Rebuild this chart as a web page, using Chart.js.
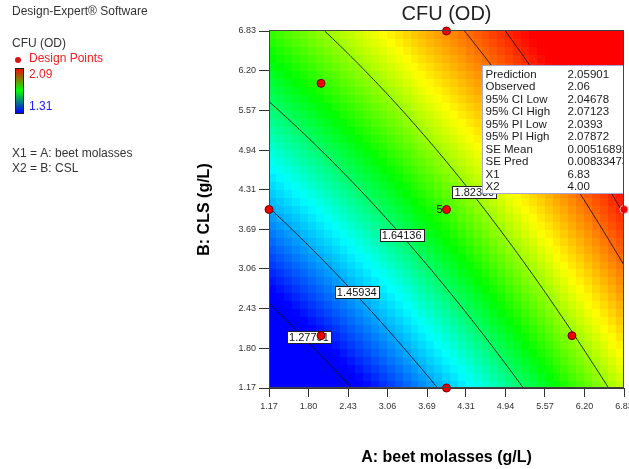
<!DOCTYPE html>
<html>
<head>
<meta charset="utf-8">
<title>CFU (OD) contour</title>
<script src="https://cdn.jsdelivr.net/npm/chart.js@4.4.1/dist/chart.umd.min.js"></script>
<style>
  html, body { margin: 0; padding: 0; background: #fff; }
  #wrap { width: 629px; height: 469px; }
</style>
</head>
<body>
<div id="wrap"><canvas id="chart" width="629" height="469"></canvas></div>
<script>
// Tick labels as printed on both axes (g/L)
const aTicks = [1.17, 1.80, 2.43, 3.06, 3.69, 4.31, 4.94, 5.57, 6.20, 6.83];
const bTicks = [1.17, 1.80, 2.43, 3.06, 3.69, 4.31, 4.94, 5.57, 6.20, 6.83];

// Design points (central composite, alpha = 1.414)
const designA = [1.17, 2.00, 4.00, 4.00, 6.83, 6.00, 2.00, 4.00];
const designB = [4.00, 6.00, 6.83, 4.00, 4.00, 2.00, 2.00, 1.17];
const centerReps = 5;
const flaggedPoint = 4; // index of the point the flag box belongs to

// Fitted quadratic, coded units x = (g/L - 4) / 2
// terms: [intercept, A, B, AB, A^2, B^2]
const modelCoef = [1.758, 0.215, 0.178, -0.036, 0.001, -0.014];

// Contour levels (last one goes through the flagged point)
const contourLevels = [1.27791, 1.45934, 1.64136, 1.82339, 2.00542, 2.05901];
const contourLabels = ['1.27791', '1.45934', '1.64136', '1.82339'];
const colorRange = [1.31, 2.09];

// Flag box at A = 6.83, B = 4.00
const flagNames = ['Prediction', 'Observed', '95% CI Low', '95% CI High', '95% PI Low', '95% PI High', 'SE Mean', 'SE Pred', 'X1', 'X2'];
const flagValues = ['2.05901', '2.06', '2.04678', '2.07123', '2.0393', '2.07872', '0.00516892', '0.00833473', '6.83', '4.00'];

const FONT = '"Liberation Sans", Arial, sans-serif';

function predict(a, b) {
  const x1 = (a - 4) / 2;
  const x2 = (b - 4) / 2;
  const c = modelCoef;
  return c[0] + c[1] * x1 + c[2] * x2 + c[3] * x1 * x2 + c[4] * x1 * x1 + c[5] * x2 * x2;
}

// blue -> cyan -> green -> yellow -> red
const colorStops = [[0, 0, 255], [0, 255, 255], [0, 255, 0], [255, 255, 0], [255, 0, 0]];
const stopPos = [0, 0.29, 0.52, 0.75, 1];
function colorFor(v) {
  let t = (v - colorRange[0]) / (colorRange[1] - colorRange[0]);
  t = Math.max(0, Math.min(1, t));
  let k = 0;
  while (k < stopPos.length - 2 && t > stopPos[k + 1]) k++;
  const f = (t - stopPos[k]) / (stopPos[k + 1] - stopPos[k]);
  const c0 = colorStops[k], c1 = colorStops[k + 1];
  const r = Math.round(c0[0] + (c1[0] - c0[0]) * f);
  const g = Math.round(c0[1] + (c1[1] - c0[1]) * f);
  const bl = Math.round(c0[2] + (c1[2] - c0[2]) * f);
  return `rgb(${r},${g},${bl})`;
}

// marching squares on the fitted surface
function contourSegments(level, xs, ys, n) {
  const segs = [];
  const dA = (xs.max - xs.min) / n;
  const dB = (ys.max - ys.min) / n;
  const grid = [];
  for (let j = 0; j <= n; j++) {
    grid[j] = [];
    for (let i = 0; i <= n; i++) grid[j][i] = predict(xs.min + i * dA, ys.min + j * dB);
  }
  for (let j = 0; j < n; j++) {
    for (let i = 0; i < n; i++) {
      const corners = [
        [xs.min + i * dA, ys.min + j * dB, grid[j][i]],
        [xs.min + (i + 1) * dA, ys.min + j * dB, grid[j][i + 1]],
        [xs.min + (i + 1) * dA, ys.min + (j + 1) * dB, grid[j + 1][i + 1]],
        [xs.min + i * dA, ys.min + (j + 1) * dB, grid[j + 1][i]],
      ];
      const pts = [];
      for (let e = 0; e < 4; e++) {
        const p = corners[e], q = corners[(e + 1) % 4];
        if ((p[2] < level) !== (q[2] < level)) {
          const t = (level - p[2]) / (q[2] - p[2]);
          pts.push([p[0] + t * (q[0] - p[0]), p[1] + t * (q[1] - p[1])]);
        }
      }
      if (pts.length >= 2) segs.push([pts[0], pts[1]]);
      if (pts.length === 4) segs.push([pts[2], pts[3]]);
    }
  }
  return segs;
}

const surfacePlugin = {
  id: 'surface',
  beforeDatasetsDraw(chart, args, opts) {
    const { ctx, chartArea: ca, scales: { x, y } } = chart;
    ctx.save();
    ctx.beginPath();
    ctx.rect(ca.left, ca.top, ca.right - ca.left, ca.bottom - ca.top);
    ctx.clip();

    // coloured cells
    const n = opts.cells;
    const dA = (x.max - x.min) / n;
    const dB = (y.max - y.min) / n;
    for (let i = 0; i < n; i++) {
      for (let j = 0; j < n; j++) {
        const a0 = x.min + i * dA, b0 = y.min + j * dB;
        const px0 = Math.floor(x.getPixelForValue(a0));
        const px1 = Math.ceil(x.getPixelForValue(a0 + dA));
        const py0 = Math.floor(y.getPixelForValue(b0 + dB));
        const py1 = Math.ceil(y.getPixelForValue(b0));
        ctx.fillStyle = colorFor(predict(a0 + dA / 2, b0 + dB / 2));
        ctx.fillRect(px0, py0, px1 - px0, py1 - py0);
      }
    }

    // contour lines
    ctx.strokeStyle = '#111';
    ctx.lineWidth = 0.9;
    contourLevels.forEach((lv) => {
      ctx.beginPath();
      contourSegments(lv, x, y, 140).forEach(([p, q]) => {
        ctx.moveTo(x.getPixelForValue(p[0]), y.getPixelForValue(p[1]));
        ctx.lineTo(x.getPixelForValue(q[0]), y.getPixelForValue(q[1]));
      });
      ctx.stroke();
    });

    // contour labels
    ctx.font = `11px ${FONT}`;
    ctx.textAlign = 'center';
    ctx.textBaseline = 'middle';
    contourLabels.forEach((txt, k) => {
      const [la, lb] = opts.labelAt[k];
      const cx = x.getPixelForValue(la), cy = y.getPixelForValue(lb);
      const w = Math.ceil(ctx.measureText(txt).width) + 4;
      ctx.fillStyle = '#fff';
      ctx.fillRect(Math.round(cx - w / 2) + 0.5, Math.round(cy - 6) + 0.5, w, 12);
      ctx.strokeStyle = '#222';
      ctx.lineWidth = 1;
      ctx.strokeRect(Math.round(cx - w / 2) + 0.5, Math.round(cy - 6) + 0.5, w, 12);
      ctx.fillStyle = '#111';
      ctx.fillText(txt, cx, cy + 1);
    });
    ctx.restore();
  },
  afterDatasetsDraw(chart) {
    const { ctx, chartArea: ca, scales: { x, y } } = chart;
    ctx.save();
    // replicate count at the centre point
    ctx.font = `11px ${FONT}`;
    ctx.fillStyle = '#111';
    ctx.textAlign = 'right';
    ctx.textBaseline = 'middle';
    ctx.fillText(String(centerReps), x.getPixelForValue(4) - 4, y.getPixelForValue(4));

    // flag box, clipped to the plot
    ctx.save();
    ctx.beginPath();
    ctx.rect(ca.left, ca.top, ca.right - ca.left, ca.bottom - ca.top);
    ctx.clip();
    const bx = ca.left + 213.5, by = ca.top + 34.5;
    ctx.fillStyle = '#fff';
    ctx.fillRect(bx, by, 200, 128);
    ctx.strokeStyle = '#a8a8d8';
    ctx.lineWidth = 1;
    ctx.strokeRect(bx, by, 200, 128);
    ctx.font = `11.5px ${FONT}`;
    ctx.fillStyle = '#1a1a1a';
    ctx.textAlign = 'left';
    flagNames.forEach((nm, k) => {
      const ty = by + 9 + k * 12.5;
      ctx.fillText(nm, bx + 3, ty);
      ctx.fillText(flagValues[k], bx + 85, ty);
    });
    ctx.restore();

    // plot frame
    ctx.strokeStyle = '#444';
    ctx.lineWidth = 1;
    ctx.strokeRect(Math.round(ca.left) + 0.5, Math.round(ca.top) - 0.5, Math.round(ca.right - ca.left) - 1, Math.round(ca.bottom - ca.top));
    ctx.restore();
  },
  afterDraw(chart) {
    const { ctx } = chart;
    ctx.save();
    ctx.textAlign = 'left';
    ctx.textBaseline = 'middle';
    ctx.font = `12px ${FONT}`;
    ctx.fillStyle = '#333';
    ctx.fillText('Design-Expert\u00ae Software', 12, 12);
    ctx.fillText('CFU (OD)', 12, 44);
    ctx.fillText('X1 = A: beet molasses', 12, 154);
    ctx.fillText('X2 = B: CSL', 12, 169);

    ctx.fillStyle = '#e01010';
    ctx.beginPath();
    ctx.arc(18, 60, 3, 0, Math.PI * 2);
    ctx.fill();
    ctx.fillStyle = '#f02020';
    ctx.fillText('Design Points', 29, 59);
    ctx.fillText(colorRange[1].toFixed(2), 29, 75);
    ctx.fillStyle = '#2020ff';
    ctx.fillText(colorRange[0].toFixed(2), 29, 107);

    const grad = ctx.createLinearGradient(0, 68, 0, 113);
    grad.addColorStop(0, '#ff0000');
    grad.addColorStop(0.5, '#00ff00');
    grad.addColorStop(1, '#0000ff');
    ctx.fillStyle = grad;
    ctx.fillRect(15, 68, 8, 45);
    ctx.strokeStyle = '#222';
    ctx.strokeRect(15.5, 68.5, 8, 45);
    ctx.restore();
  },
};

function fixedTicks(list) {
  return (scale) => { scale.ticks = list.map((v) => ({ value: v })); };
}

new Chart(document.getElementById('chart'), {
  type: 'scatter',
  data: {
    datasets: [{
      data: designA.map((a, i) => ({ x: a, y: designB[i] })),
      pointRadius: 4,
      pointHoverRadius: 4,
      backgroundColor: '#ee0000',
      borderColor: (c) => (c.dataIndex === flaggedPoint ? '#ff9aa8' : '#6a0000'),
      borderWidth: 1,
      clip: false,
    }],
  },
  options: {
    responsive: false,
    animation: false,
    events: [],
    layout: { padding: { left: 190, top: 0, right: 3, bottom: 0 } },
    plugins: {
      legend: { display: false },
      tooltip: { enabled: false },
      title: {
        display: true,
        text: 'CFU (OD)',
        fullSize: false,
        color: '#222',
        font: { family: FONT, size: 20, weight: 'normal', lineHeight: 1.2 },
        padding: { top: 2, bottom: 5 },
      },
      surface: {
        cells: 45,
        labelAt: [[1.806, 1.979], [2.569, 2.692], [3.285, 3.596], [4.445, 4.277]],
      },
    },
    scales: {
      x: {
        type: 'linear',
        position: 'bottom',
        min: 1.17,
        max: 6.83,
        afterBuildTicks: fixedTicks(aTicks),
        afterFit: (s) => { s.height = 81; s.paddingLeft = 0; s.paddingRight = 0; },
        ticks: { color: '#333', font: { family: FONT, size: 9 }, padding: 4, maxRotation: 0, autoSkip: false, callback: (v) => Number(v).toFixed(2) },
        grid: { drawOnChartArea: false, drawTicks: true, tickLength: 9, color: '#333' },
        border: { display: true, color: '#333' },
        title: { display: true, text: 'A: beet molasses (g/L)', color: '#000', font: { family: FONT, size: 16, weight: 'bold', lineHeight: 1.2 }, padding: { top: 0, bottom: 2 } },
      },
      y: {
        type: 'linear',
        position: 'left',
        min: 1.17,
        max: 6.83,
        afterBuildTicks: fixedTicks(bTicks),
        afterFit: (s) => { s.width = 79; s.paddingTop = 0; s.paddingBottom = 0; },
        ticks: { color: '#333', font: { family: FONT, size: 9 }, padding: 3, autoSkip: false, callback: (v) => Number(v).toFixed(2) },
        grid: { drawOnChartArea: false, drawTicks: true, tickLength: 10, color: '#333' },
        border: { display: true, color: '#333' },
        title: { display: true, text: 'B: CLS (g/L)', color: '#000', font: { family: FONT, size: 16, weight: 'bold', lineHeight: 1.2 }, padding: { top: 5, bottom: 0 } },
      },
    },
  },
  plugins: [surfacePlugin],
});
</script>
</body>
</html>
